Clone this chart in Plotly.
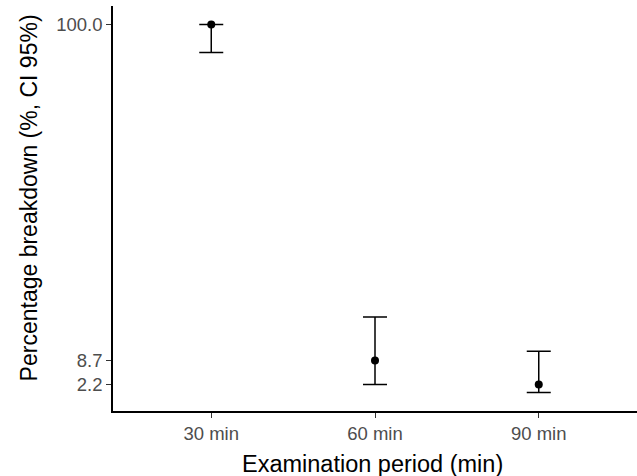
import plotly.graph_objects as go

categories = ["30 min", "60 min", "90 min"]
estimate = [100.0, 8.7, 2.2]
ci_lower = [92.4, 2.2, 0.0]
ci_upper = [100.0, 20.5, 11.2]
ytick_vals = [100.0, 8.7, 2.2]
ytick_text = ["100.0", "8.7", "2.2"]

err_plus = [u - e for u, e in zip(ci_upper, estimate)]
err_minus = [e - l for e, l in zip(estimate, ci_lower)]

fig = go.Figure()
fig.add_trace(go.Scatter(
    x=categories, y=estimate, mode="markers",
    marker=dict(color="black", size=8),
    error_y=dict(type="data", symmetric=False, array=err_plus, arrayminus=err_minus,
                 color="black", thickness=1.5, width=12),
    showlegend=False,
))

font_family = "Liberation Sans, Arial, sans-serif"
fig.update_layout(
    width=637, height=476,
    margin=dict(l=113, r=0, t=6, b=65),
    paper_bgcolor="white", plot_bgcolor="white",
    font=dict(family=font_family),
    xaxis=dict(type="category", range=[-0.6, 2.6], showgrid=False, zeroline=False,
               showline=True, linecolor="black", linewidth=1.5,
               ticks="outside", ticklen=5, tickcolor="#333333", tickwidth=1.2,
               tickfont=dict(size=18.5, color="#4D4D4D", family=font_family)),
    yaxis=dict(range=[-5, 105], showgrid=False, zeroline=False,
               showline=True, linecolor="black", linewidth=1.5,
               ticks="outside", ticklen=5, tickcolor="#333333", tickwidth=1.2,
               tickvals=ytick_vals, ticktext=ytick_text,
               tickfont=dict(size=18.5, color="#4D4D4D", family=font_family)),
    annotations=[
        dict(text="Examination period (min)", xref="paper", yref="paper",
             x=0.495, y=0, yshift=-53, showarrow=False, xanchor="center", yanchor="middle",
             font=dict(size=23.5, color="black", family=font_family)),
        dict(text="Percentage breakdown (%, CI 95%)", xref="paper", yref="paper",
             x=0, xshift=-84, y=0.525, showarrow=False, textangle=-90,
             xanchor="center", yanchor="middle",
             font=dict(size=23, color="black", family=font_family)),
    ],
)

fig.write_html("out.html", config={"displayModeBar": False},
               post_script="document.body.style.margin='0';document.body.style.padding='0';")
